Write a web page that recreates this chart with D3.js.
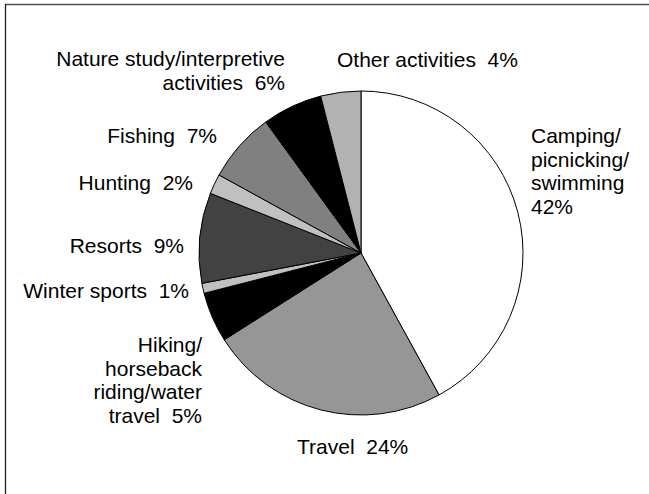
<!DOCTYPE html>
<html>
<head>
<meta charset="utf-8">
<script src="https://cdn.jsdelivr.net/npm/d3@7"></script>
<style>
  html, body { margin: 0; padding: 0; background: #fff; }
  svg { display: block; }
  text { font-family: "Liberation Sans", Arial, Helvetica, sans-serif; font-size: 21px; fill: #000; }
</style>
</head>
<body>
<svg id="chart" width="649" height="494"></svg>
<script>
// Recreation activity shares (percent), clockwise from 12 o'clock
const categories = [
  "Camping/picnicking/swimming",
  "Travel",
  "Hiking/horseback riding/water travel",
  "Winter sports",
  "Resorts",
  "Hunting",
  "Fishing",
  "Nature study/interpretive activities",
  "Other activities"
];
const shares = [42, 24, 5, 1, 9, 2, 7, 6, 4];

// Label text, broken into lines; the share is appended to the last line
const labelLines = [
  ["Camping/", "picnicking/", "swimming", ""],
  ["Travel"],
  ["Hiking/", "horseback", "riding/water", "travel"],
  ["Winter sports"],
  ["Resorts"],
  ["Hunting"],
  ["Fishing"],
  ["Nature study/interpretive", "activities"],
  ["Other activities"]
];

const sliceFills = ["#ffffff", "#969696", "#000000", "#c0c0c0", "#424242",
                    "#c0c0c0", "#808080", "#000000", "#b2b2b2"];

// Label anchor points (first baseline) and alignment
const labelPlacement = [
  { x: 531, y: 143, anchor: "start" },
  { x: 297, y: 454, anchor: "start" },
  { x: 202, y: 352, anchor: "end" },
  { x: 189, y: 298, anchor: "end" },
  { x: 184, y: 253, anchor: "end" },
  { x: 193, y: 190, anchor: "end" },
  { x: 217, y: 143, anchor: "end" },
  { x: 285, y: 66,  anchor: "end" },
  { x: 337, y: 67,  anchor: "start" }
];
const lineHeight = 23.7;

const svg = d3.select("#chart");
const W = 649, H = 494;

// Frame: top and left rules
svg.append("line").attr("x1", 5).attr("x2", W).attr("y1", 4.5).attr("y2", 4.5)
  .attr("stroke", "#505050").attr("stroke-width", 1.6);
svg.append("line").attr("x1", 5.5).attr("x2", 5.5).attr("y1", 4).attr("y2", H)
  .attr("stroke", "#202020").attr("stroke-width", 1.3);

const cx = 361, cy = 253, radius = 162;

const pie = d3.pie().value(d => d.value).sort(null);
const arc = d3.arc().innerRadius(0).outerRadius(radius);

const rows = categories.map((c, i) => ({ name: c, value: shares[i], i }));

const g = svg.append("g").attr("transform", `translate(${cx},${cy})`);
g.selectAll("path")
  .data(pie(rows))
  .join("path")
  .attr("d", arc)
  .attr("fill", d => sliceFills[d.data.i])
  .attr("stroke", "#000")
  .attr("stroke-width", 1)
  .attr("stroke-linejoin", "round");

// Labels
rows.forEach((r, i) => {
  const p = labelPlacement[i];
  const lines = labelLines[i].slice();
  const last = lines.length - 1;
  lines[last] = lines[last] === "" ? `${r.value}%` : `${lines[last]}\u00a0\u00a0${r.value}%`;
  const t = svg.append("text")
    .attr("x", p.x).attr("y", p.y)
    .attr("text-anchor", p.anchor);
  lines.forEach((ln, k) => {
    t.append("tspan").attr("x", p.x).attr("y", p.y + k * lineHeight).text(ln);
  });
});
</script>
</body>
</html>
